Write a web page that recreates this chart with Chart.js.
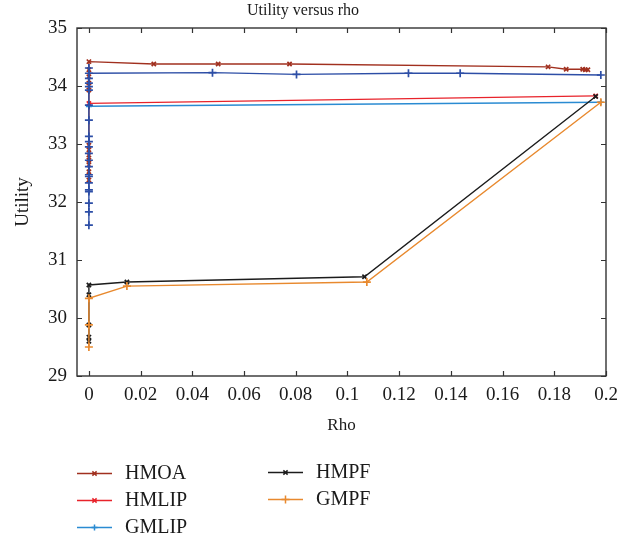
<!DOCTYPE html>
<html>
<head>
<meta charset="utf-8">
<title>Utility versus rho</title>
<script src="https://cdn.jsdelivr.net/npm/chart.js@4.4.1/dist/chart.umd.min.js"></script>
<style>
  html, body { margin: 0; padding: 0; background: #fff; }
  #wrap { position: relative; width: 635px; height: 541px; }
</style>
</head>
<body>
<div id="wrap"><canvas id="chart" width="635" height="541"></canvas></div>
<script>
"use strict";

// ── Data ─────────────────────────────────────────────────────────────────────

const X_TICKS = [0, 0.02, 0.04, 0.06, 0.08, 0.1, 0.12, 0.14, 0.16, 0.18, 0.2];
const Y_TICKS = [29, 30, 31, 32, 33, 34, 35];

const HMOA_RHO  = [0, 0, 0, 0, 0, 0, 0, 0, 0, 0, 0, 0,
                   0.0251, 0.0500, 0.0776, 0.1776, 0.1846, 0.1910, 0.1920, 0.1930];
const HMOA_UTIL = [32.38, 32.52, 32.64, 32.72, 32.81, 32.90, 32.98, 33.93, 34.05, 34.16, 34.28, 34.42,
                   34.38, 34.38, 34.38, 34.33, 34.29, 34.29, 34.28, 34.28];

// dark blue series (no legend entry in the original figure)
const GMOA_RHO  = [0, 0, 0, 0, 0, 0, 0, 0, 0, 0, 0, 0, 0, 0, 0, 0, 0, 0, 0, 0, 0, 0,
                   0.0478, 0.0803, 0.1236, 0.1436, 0.1980];
const GMOA_UTIL = [31.60, 31.83, 31.98, 32.18, 32.21, 32.33, 32.44, 32.47, 32.61, 32.72, 32.84,
                   32.95, 33.04, 33.13, 33.41, 33.67, 33.93, 33.99, 34.05, 34.13, 34.31, 34.22,
                   34.23, 34.20, 34.22, 34.22, 34.19];

const HMLIP_RHO  = [0, 0.1960];
const HMLIP_UTIL = [33.70, 33.83];

const GMLIP_RHO  = [0, 0.1980];
const GMLIP_UTIL = [33.65, 33.72];

const HMPF_RHO  = [0, 0, 0, 0, 0, 0.0147, 0.1066, 0.1960];
const HMPF_UTIL = [29.60, 29.67, 29.88, 30.40, 30.57, 30.62, 30.71, 33.82];

const GMPF_RHO  = [0, 0, 0, 0.0147, 0.1075, 0.1980];
const GMPF_UTIL = [29.50, 29.88, 30.34, 30.55, 30.62, 33.72];

// ── Helpers ──────────────────────────────────────────────────────────────────

const FONT = "'Liberation Serif', 'DejaVu Serif', serif";

function pts(xs, ys) {
  return xs.map((x, i) => ({ x, y: ys[i] }));
}

function series(label, xs, ys, color, pointStyle, radius, order) {
  return {
    label,
    data: pts(xs, ys),
    showLine: true,
    borderColor: color,
    backgroundColor: color,
    borderWidth: 1.4,
    pointStyle,
    pointRadius: radius,
    pointBorderWidth: 1.7,
    pointHoverRadius: radius,
    order,
  };
}

// ── Frame + inward ticks ─────────────────────────────────────────────────────

const framePlugin = {
  id: "frame",
  beforeDatasetsDraw(chart) {
    const { ctx, chartArea: a, scales: { x, y } } = chart;
    ctx.save();
    ctx.strokeStyle = "#333";
    ctx.lineWidth = 1.4;
    ctx.strokeRect(a.left, a.top, a.right - a.left, a.bottom - a.top);
    ctx.lineWidth = 1.2;
    ctx.beginPath();
    x.ticks.forEach(t => {
      const px = Math.round(x.getPixelForValue(t.value)) + 0.5;
      ctx.moveTo(px, a.bottom); ctx.lineTo(px, a.bottom - 5);
      ctx.moveTo(px, a.top); ctx.lineTo(px, a.top + 5);
    });
    y.ticks.forEach(t => {
      const py = Math.round(y.getPixelForValue(t.value)) + 0.5;
      ctx.moveTo(a.left, py); ctx.lineTo(a.left + 5, py);
      ctx.moveTo(a.right, py); ctx.lineTo(a.right - 5, py);
    });
    ctx.stroke();
    ctx.restore();
  },
};

// ── Two-column legend under the plot ─────────────────────────────────────────

const LEGEND_SLOTS = [
  { label: "HMOA",  x: 77,  y: 473 },
  { label: "HMLIP", x: 77,  y: 500 },
  { label: "GMLIP", x: 77,  y: 527 },
  { label: "HMPF",  x: 268, y: 472 },
  { label: "GMPF",  x: 268, y: 499 },
];

const legendPlugin = {
  id: "sideLegend",
  afterDraw(chart) {
    const { ctx } = chart;
    ctx.save();
    LEGEND_SLOTS.forEach(slot => {
      const ds = chart.data.datasets.find(d => d.label === slot.label);
      if (!ds) return;
      ctx.strokeStyle = ds.borderColor;
      ctx.fillStyle = ds.borderColor;
      ctx.lineWidth = 1.5;
      ctx.beginPath();
      ctx.moveTo(slot.x, slot.y + 0.5);
      ctx.lineTo(slot.x + 35, slot.y + 0.5);
      ctx.stroke();
      Chart.helpers.drawPoint(ctx, {
        pointStyle: ds.pointStyle, radius: ds.pointRadius, rotation: 0, borderWidth: 1.7,
      }, slot.x + 17.5, slot.y + 0.5);
      ctx.fillStyle = "#1a1a1a";
      ctx.font = `20px ${FONT}`;
      ctx.textBaseline = "middle";
      ctx.fillText(slot.label, slot.x + 48, slot.y + 1);
    });
    ctx.restore();
  },
};

// ── Chart ────────────────────────────────────────────────────────────────────

new Chart(document.getElementById("chart"), {
  type: "scatter",
  data: {
    datasets: [
      series("GMOA",  GMOA_RHO,  GMOA_UTIL,  "#2d4ea6", "cross",    4, 0),
      series("GMPF",  GMPF_RHO,  GMPF_UTIL,  "#e8892e", "cross",    4, 1),
      series("HMPF",  HMPF_RHO,  HMPF_UTIL,  "#1c1c1c", "crossRot", 3, 2),
      series("HMOA",  HMOA_RHO,  HMOA_UTIL,  "#a1301f", "crossRot", 3, 3),
      series("GMLIP", GMLIP_RHO, GMLIP_UTIL, "#2a8bd2", "cross",    3, 4),
      series("HMLIP", HMLIP_RHO, HMLIP_UTIL, "#e8232b", "crossRot", 3, 5),
    ],
  },
  options: {
    responsive: false,
    animation: false,
    layout: { padding: { left: 0, top: 0, right: 29, bottom: 100 } },
    plugins: {
      legend: { display: false },
      tooltip: { enabled: false },
      title: {
        display: true,
        text: "Utility versus rho",
        color: "#1a1a1a",
        font: { family: FONT, size: 16, weight: "normal", lineHeight: 1.25 },
        padding: { top: 1, bottom: 7 },
      },
    },
    scales: {
      x: {
        type: "linear",
        min: -0.0046,
        max: 0.2,
        grid: { display: false, drawTicks: false },
        border: { display: false },
        afterFit: s => { s.height = 65; },
        afterBuildTicks: s => { s.ticks = X_TICKS.map(v => ({ value: v })); },
        ticks: {
          padding: 8,
          color: "#1a1a1a",
          font: { family: FONT, size: 19 },
          callback: v => String(Number(v.toFixed(2))),
        },
        title: {
          display: true,
          text: "Rho",
          color: "#1a1a1a",
          font: { family: FONT, size: 17, lineHeight: 1.2 },
          padding: { top: 0, bottom: 5 },
        },
      },
      y: {
        min: 29,
        max: 35,
        grid: { display: false, drawTicks: false },
        border: { display: false },
        afterFit: s => { s.width = 77; },
        afterBuildTicks: s => { s.ticks = Y_TICKS.map(v => ({ value: v })); },
        ticks: {
          padding: 10,
          color: "#1a1a1a",
          font: { family: FONT, size: 19 },
        },
        title: {
          display: true,
          text: "Utility",
          color: "#1a1a1a",
          font: { family: FONT, size: 19, lineHeight: 1.2 },
          padding: { top: 12, bottom: 0 },
        },
      },
    },
  },
  plugins: [framePlugin, legendPlugin],
});
</script>
</body>
</html>
